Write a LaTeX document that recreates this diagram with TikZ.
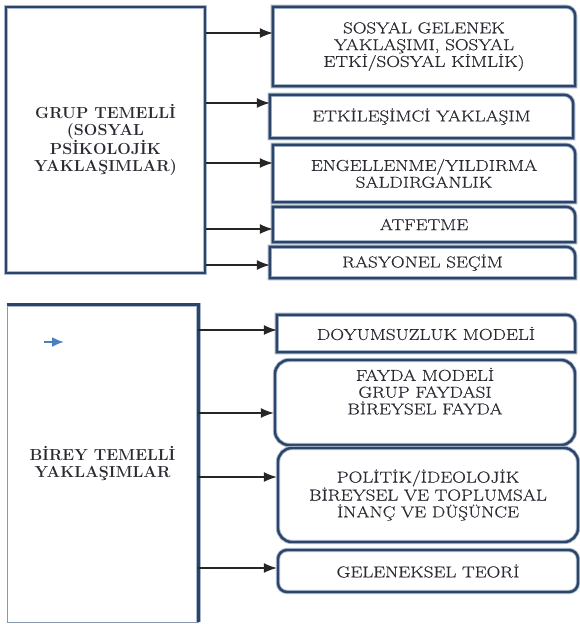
\documentclass[tikz,border=0pt]{standalone}
\usepackage{fontspec}
\setmainfont{Latin Modern Roman}
\newfontfamily\widefont{Latin Modern Roman}[FakeStretch=1.2, FakeBold=0.6]
\usetikzlibrary{arrows.meta, positioning}
\definecolor{FrameNavy}{HTML}{2B4468}
\definecolor{FrameGlow}{HTML}{A9B8CC}
\definecolor{LabelInk}{HTML}{2A2A33}
\definecolor{MarkBlue}{HTML}{4A7FC1}
\tikzset{
  % Frame line
  frameline/.style={draw=FrameNavy, line width=2.4pt, preaction={draw=FrameGlow, line width=4.2pt}},
  % Box styles
  groupbox/.style={rectangle, inner sep=0pt, text=LabelInk, font=\bfseries\fontsize{16}{17}\selectfont, align=center},
  itembox/.style={rectangle, inner sep=0pt, text=LabelInk, font=\widefont\fontsize{15.8}{16.8}\selectfont, align=center},
  roundbox/.style={itembox, rounded corners=14pt, frameline},
  % Arrow styles
  arrow/.style={-{Latex[length=13pt,width=10pt]}, line width=1.2pt, black!85},
  bluearrow/.style={-{Latex[length=12pt,width=10pt]}, line width=2.2pt, MarkBlue}
}

\begin{document}
\begin{tikzpicture}[x=1pt, y=-1pt]
  \useasboundingbox (0,0) rectangle (579,624);

  % Group based side
  \node[groupbox, frameline, minimum width=199pt, minimum height=266pt] (grup) at (105.5,140) {GRUP TEMELL\.I\\(SOSYAL\\PS\.IKOLOJ\.IK\\YAKLAŞIMLAR)};
  \node[itembox, minimum width=302pt, minimum height=79pt] (sgel) at (424,46.5) {SOSYAL GELENEK\\YAKLAŞIMI, SOSYAL\\ETK\.I/SOSYAL K\.IML\.IK)};
  \node[itembox, minimum width=303pt, minimum height=43pt] (etkil) at (421.5,116.5) {ETK\.ILEŞ\.IMC\.I YAKLAŞIM};
  \node[itembox, minimum width=302pt, minimum height=57pt] (engel) at (424,173.5) {ENGELLENME/YILDIRMA\\SALDIRGANLIK};
  \node[itembox, minimum width=302pt, minimum height=35pt] (atf) at (424,224.5) {ATFETME};
  \node[itembox, minimum width=305pt, minimum height=31pt] (rasy) at (422.5,262.5) {RASYONEL SEÇ\.IM};

  % Individual based side
  \node[groupbox, draw=FrameNavy!55, line width=0.8pt, minimum width=191pt, minimum height=317pt] (birey) at (102.5,463.5) {B\.IREY TEMELL\.I\\YAKLAŞIMLAR};
  \draw[frameline] (birey.north west) -- (birey.north east) -- (birey.south east);
  \node[itembox, minimum width=298pt, minimum height=37pt] (doyum) at (426,333.5) {DOYUMSUZLUK MODEL\.I};
  \node[roundbox, minimum width=300pt, minimum height=85pt] (fayda) at (425,402.5) {FAYDA MODEL\.I\\GRUP FAYDASI\\B\.IREYSEL FAYDA\\[6pt]};
  \node[roundbox, minimum width=300pt, minimum height=94pt] (polit) at (428,495) {POL\.IT\.IK/\.IDEOLOJ\.IK\\B\.IREYSEL VE TOPLUMSAL\\\.INANÇ VE DÜŞÜNCE};
  \node[roundbox, rounded corners=9pt, minimum width=300pt, minimum height=42pt] (gelen) at (428,571) {GELENEKSEL TEOR\.I};

  % Frames with one round corner
  \foreach \n in {sgel, etkil, engel, atf, rasy, doyum}
    \draw[frameline] (\n.south west) -- (\n.north west) -- ([xshift=-9pt]\n.north east)
      arc[start angle=90, end angle=0, radius=9pt] -- (\n.south east) -- cycle;

  % Connectors
  \foreach \n/\d in {sgel/13.5, etkil/13.5, engel/10.5, atf/-4.5, rasy/-2.5}
    \draw[arrow] ([yshift=\d pt]\n.west -| grup.east) -- ([yshift=\d pt]\n.west);
  \foreach \n/\d in {doyum/3.5, fayda/-10.5, polit/18, gelen/3}
    \draw[arrow] ([yshift=\d pt]\n.west -| birey.east) -- ([yshift=\d pt]\n.west);

  % Stray marker
  \coordinate (mark a) at (44,342);
  \coordinate (mark b) at (64,342);
  \draw[bluearrow] (mark a) -- (mark b);
\end{tikzpicture}
\end{document}
